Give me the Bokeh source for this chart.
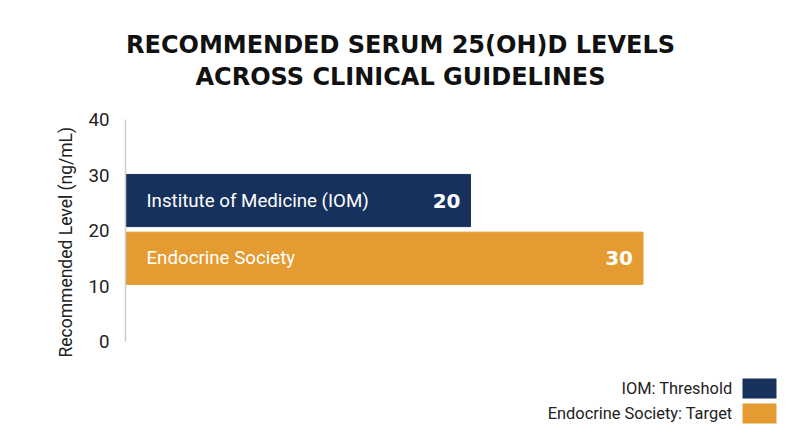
from bokeh.plotting import figure
from bokeh.models import (Range1d, FixedTicker, Label, BoxAnnotation, ColumnDataSource, Title)
from bokeh.embed import file_html
from bokeh.resources import INLINE
from bokeh.core.properties import value

# ---- data ----
categories = ["Institute of Medicine (IOM)", "Endocrine Society"]
levels = [20, 30]
bar_colors = ["#16315c", "#e39b32"]
legend_labels = ["IOM: Threshold", "Endocrine Society: Target"]
y_ticks = [0, 10, 20, 30, 40]
title_lines = ["RECOMMENDED SERUM 25(OH)D LEVELS", "ACROSS CLINICAL GUIDELINES"]
axis_title = "Recommended Level (ng/mL)"

# ---- layout (px, page coordinates) ----
W, H = 792, 440
FL = 125                          # frame left = axis line
AXIS_TOP, AXIS_BOTTOM = 119, 341  # pixel rows of the values 40 and 0
PX_PER_UNIT = 17.25               # horizontal px per ng/mL
Y_MIN, Y_MAX = 0, 40
BAND_MID, BAND_STEP, BAR_H = 20.2, 10.4, 9.4   # category band placement on the value axis
TITLE_CENTER_X = 400
TITLE_ROWS = [44, 76]
AXIS_TITLE_BOTTOM = 357

FW = W - FL
upp = (Y_MAX - Y_MIN) / (AXIS_BOTTOM - AXIS_TOP)      # data units per px
y_end = Y_MAX + AXIS_TOP * upp
y_start = Y_MIN - (H - AXIS_BOTTOM) * upp

n = len(categories)
band_y = [BAND_MID + (n - 1 - 2 * i) / 2 * BAND_STEP for i in range(n)]

src = ColumnDataSource(dict(cat=categories, level=levels, color=bar_colors, y=band_y,
                            txt=[str(v) for v in levels]))

p = figure(width=W, height=H, output_backend="svg", toolbar_location=None,
           x_range=Range1d(0, FW / PX_PER_UNIT), y_range=Range1d(y_start, y_end),
           x_axis_location=None,
           min_border_left=FL, min_border_top=0,
           min_border_right=0, min_border_bottom=0)
p.outline_line_color = None
p.xgrid.visible = False
p.ygrid.visible = False
p.background_fill_color = "white"
p.border_fill_color = "white"

ax = p.yaxis[0]
ax.ticker = FixedTicker(ticks=y_ticks)
ax.bounds = (Y_MIN, Y_MAX)
ax.major_tick_line_color = None
ax.minor_tick_line_color = None
ax.axis_line_color = "#cccccc"
ax.axis_line_width = 1.5
ax.major_label_text_font = "Roboto"
ax.major_label_text_font_size = "18.7px"
ax.major_label_text_color = "#222222"
ax.major_label_standoff = 10

# axis title as a side title so it can sit on the 0..40 span
p.add_layout(Title(text=axis_title, align="left", offset=H - AXIS_TITLE_BOTTOM,
                   text_font="Roboto", text_font_style="normal",
                   text_font_size="17.5px", text_color="#222222", standoff=19), "left")

p.hbar(y="y", left=0, right="level", height=BAR_H, color="color", source=src)

p.text(x=0, y="y", text="cat", x_offset=21, text_align="left",
       text_baseline="middle", text_color="white", text_font=value("Roboto"),
       text_font_size="18.7px", source=src)
p.text(x="level", y="y", text="txt", x_offset=-10, text_align="right",
       text_baseline="middle", text_color="white", text_font=value("DejaVu Sans"),
       text_font_style="bold", text_font_size="20px", source=src)

# two-line centred title, screen units from the frame's bottom-left
for line, row in zip(title_lines, TITLE_ROWS):
    p.add_layout(Label(x=TITLE_CENTER_X - FL, y=H - row, x_units="screen", y_units="screen",
                       text=line, text_align="center", text_baseline="middle",
                       text_font="DejaVu Sans", text_font_style="bold",
                       text_font_size="24px", text_color="#111111"))

# custom legend (label left of swatch)
for i, (lab, col) in enumerate(zip(legend_labels, bar_colors)):
    yc = (H - 388) - 25 * i
    p.add_layout(Label(x=607, y=yc, x_units="screen", y_units="screen", text=lab,
                       text_align="right", text_baseline="middle",
                       text_font="Roboto", text_font_size="16.4px", text_color="#222222"))
    p.add_layout(BoxAnnotation(left=617, right=651, top=yc + 10, bottom=yc - 10,
                               left_units="screen", right_units="screen",
                               top_units="screen", bottom_units="screen",
                               fill_color=col, fill_alpha=1, line_color=None))

open("out.html", "w").write(file_html(p, INLINE))
